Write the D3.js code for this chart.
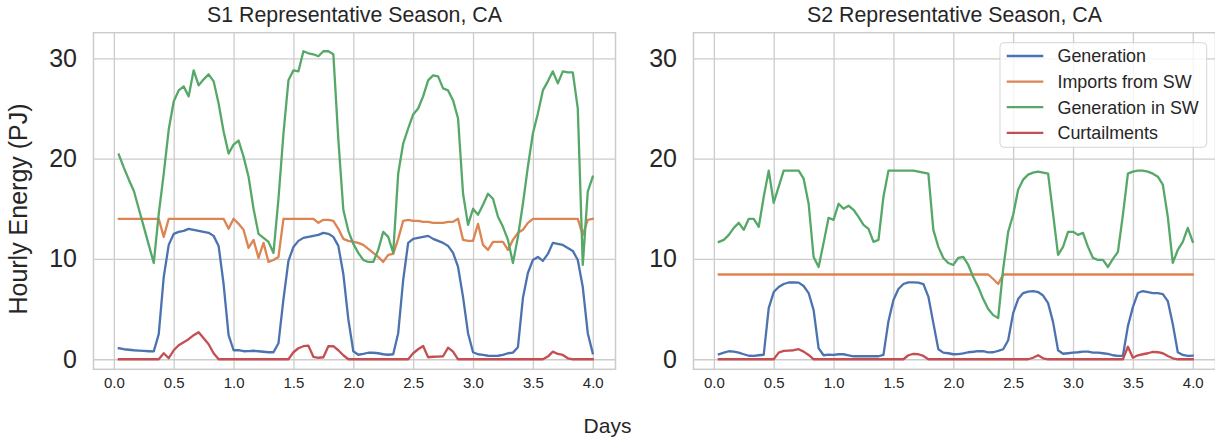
<!DOCTYPE html>
<html>
<head>
<meta charset="utf-8">
<script src="https://cdn.jsdelivr.net/npm/d3@7"></script>
<style>
  body { margin: 0; background: #fff; }
  svg { display: block; font-family: "Liberation Sans", Arial, sans-serif; }
</style>
</head>
<body>
<svg id="chart" width="1215" height="444"></svg>
<script>
// hourly values (PJ), hours 1..96 of each representative season
const hours = d3.range(1, 97)

const seriesNames = ["Generation", "Imports from SW", "Generation in SW", "Curtailments"]
const dayTicks = [0, 0.5, 1, 1.5, 2, 2.5, 3, 3.5, 4]
const energyTicks = [0, 10, 20, 30]

const s1Generation = [
  1.1, 1.0, 0.95, 0.9, 0.87, 0.83, 0.8, 0.78, 2.5, 8.2,
  11.4, 12.5, 12.7, 12.8, 13.0, 12.9, 12.8, 12.7, 12.6, 12.3,
  11.3, 7.5, 2.4, 0.9, 0.9, 0.8, 0.82, 0.85, 0.8, 0.75,
  0.7, 0.7, 1.6, 6.0, 9.8, 11.2, 11.8, 12.1, 12.2, 12.3,
  12.4, 12.6, 12.5, 12.2, 11.3, 8.5, 4.0, 0.8, 0.45, 0.53,
  0.65, 0.65, 0.6, 0.5, 0.45, 0.5, 2.6, 7.9, 11.6, 12.0,
  12.1, 12.2, 12.3, 12.0, 11.8, 11.6, 11.3, 10.6, 9.2, 6.2,
  2.6, 0.7, 0.5, 0.43, 0.35, 0.33, 0.35, 0.43, 0.6, 0.66,
  1.2, 6.1, 8.6, 9.9, 10.2, 9.8, 10.5, 11.6, 11.5, 11.4,
  11.1, 10.8, 9.9, 7.2, 2.6, 0.6
]
const s1Imports = [
  14.0, 14.0, 14.0, 14.0, 14.0, 14.0, 14.0, 14.0, 14.0, 12.2,
  14.0, 14.0, 14.0, 14.0, 14.0, 14.0, 14.0, 14.0, 14.0, 14.0,
  14.0, 14.0, 13.0, 14.0, 13.5, 12.9, 11.1, 11.9, 10.1, 11.6,
  9.7, 9.9, 10.2, 14.0, 14.0, 14.0, 14.0, 14.0, 14.0, 14.0,
  13.6, 13.9, 13.9, 13.8, 13.0, 12.0, 11.8, 11.7, 11.6, 11.4,
  11.0, 10.6, 10.2, 9.7, 10.4, 10.5, 12.0, 13.8, 13.9, 13.8,
  13.8, 13.7, 13.7, 13.6, 13.6, 13.6, 13.7, 13.7, 14.0, 11.9,
  11.8, 11.8, 13.5, 11.4, 10.9, 11.7, 11.7, 11.7, 10.9, 11.9,
  12.6, 12.9, 13.6, 14.0, 14.0, 14.0, 14.0, 14.0, 14.0, 14.0,
  14.0, 14.0, 14.0, 12.4, 13.9, 14.0
]
const s1GenerationSW = [
  20.4, 19.1, 17.9, 16.8, 15.0, 13.2, 11.4, 9.6, 14.5, 18.5,
  22.9, 25.7, 26.8, 27.2, 26.2, 28.8, 27.3, 27.9, 28.4, 27.7,
  25.5, 22.7, 20.5, 21.4, 21.8, 20.2, 18.2, 15.0, 12.5, 12.1,
  11.7, 10.6, 16.0, 22.5, 27.8, 28.8, 28.7, 30.7, 30.5, 30.4,
  30.2, 30.7, 30.7, 30.4, 21.9, 14.9, 12.8, 11.5, 10.6, 9.9,
  9.7, 9.7, 10.9, 12.7, 12.2, 10.6, 18.5, 21.5, 23.0, 24.4,
  25.0, 26.2, 27.8, 28.3, 28.2, 27.0, 26.8, 25.8, 24.0, 16.5,
  13.4, 15.0, 14.4, 15.4, 16.5, 16.0, 14.2, 13.2, 11.9, 9.6,
  12.2, 15.5, 19.2, 22.5, 24.5, 26.8, 27.7, 28.7, 27.5, 28.7,
  28.6, 28.6, 25.0, 9.4, 16.7, 18.2
]
const s1Curtailments = [
  0, 0, 0, 0, 0, 0, 0, 0, 0, 0.6,
  0.1, 0.9, 1.4, 1.7, 2.0, 2.4, 2.7, 2.1, 1.5, 0.6,
  0, 0, 0, 0, 0, 0, 0, 0, 0, 0,
  0, 0, 0, 0, 0, 0.7, 1.1, 1.3, 1.35, 0.25,
  0.15, 0.2, 1.3, 1.3, 0.9, 0.4, 0, 0, 0, 0,
  0, 0, 0, 0, 0, 0, 0, 0, 0, 0.6,
  1.0, 1.33, 0.2, 0.25, 0.27, 0.3, 1.16, 0.76, 0, 0,
  0, 0, 0, 0, 0, 0, 0, 0, 0, 0,
  0, 0, 0, 0, 0, 0, 0.27, 0.76, 0.53, 0.43,
  0.1, 0, 0, 0, 0, 0
]

const s2Generation = [
  0.5, 0.66, 0.8, 0.76, 0.66, 0.5, 0.35, 0.33, 0.4, 0.45,
  5.1, 6.7, 7.2, 7.5, 7.65, 7.67, 7.64, 7.3, 6.6, 4.9,
  1.1, 0.4, 0.47, 0.43, 0.5, 0.5, 0.4, 0.3, 0.3, 0.3,
  0.3, 0.3, 0.3, 0.43, 3.8, 5.9, 7.0, 7.5, 7.67, 7.67,
  7.64, 7.5, 6.25, 3.6, 1.0, 0.66, 0.6, 0.5, 0.52, 0.58,
  0.7, 0.75, 0.82, 0.8, 0.68, 0.7, 0.84, 1.0, 1.9, 4.6,
  6.0, 6.6, 6.75, 6.8, 6.7, 6.35, 5.6, 3.7, 0.9, 0.55,
  0.6, 0.66, 0.7, 0.76, 0.76, 0.66, 0.66, 0.6, 0.53, 0.4,
  0.33, 0.35, 3.3, 5.2, 6.6, 6.8, 6.7, 6.6, 6.6, 6.5,
  5.8, 3.5, 0.7, 0.43, 0.33, 0.36
]
const s2Imports = [
  8.45, 8.45, 8.45, 8.45, 8.45, 8.45, 8.45, 8.45, 8.45, 8.45,
  8.45, 8.45, 8.45, 8.45, 8.45, 8.45, 8.45, 8.45, 8.45, 8.45,
  8.45, 8.45, 8.45, 8.45, 8.45, 8.45, 8.45, 8.45, 8.45, 8.45,
  8.45, 8.45, 8.45, 8.45, 8.45, 8.45, 8.45, 8.45, 8.45, 8.45,
  8.45, 8.45, 8.45, 8.45, 8.45, 8.45, 8.45, 8.45, 8.45, 8.45,
  8.45, 8.45, 8.45, 8.45, 8.45, 8.0, 7.5, 8.45, 8.45, 8.45,
  8.45, 8.45, 8.45, 8.45, 8.45, 8.45, 8.45, 8.45, 8.45, 8.45,
  8.45, 8.45, 8.45, 8.45, 8.45, 8.45, 8.45, 8.45, 8.45, 8.45,
  8.45, 8.45, 8.45, 8.45, 8.45, 8.45, 8.45, 8.45, 8.45, 8.45,
  8.45, 8.45, 8.45, 8.45, 8.45, 8.45
]
const s2GenerationSW = [
  11.7, 11.9, 12.4, 13.1, 13.6, 12.9, 14.0, 14.0, 13.2, 16.2,
  18.8, 15.6, 17.2, 18.8, 18.8, 18.8, 18.8, 18.0, 15.5, 10.2,
  9.2, 11.6, 14.1, 13.9, 15.5, 15.0, 15.3, 14.9, 14.2, 13.4,
  13.0, 11.7, 11.9, 16.2, 18.8, 18.8, 18.8, 18.8, 18.8, 18.8,
  18.7, 18.6, 18.5, 12.9, 11.2, 10.1, 9.6, 9.4, 10.1, 10.2,
  9.4, 8.2, 7.2, 6.0, 5.0, 4.4, 4.1, 9.0, 12.7, 14.4,
  16.9, 17.9, 18.4, 18.6, 18.7, 18.6, 18.5, 14.5, 10.4, 11.2,
  12.7, 12.7, 12.4, 12.6, 11.2, 10.1, 9.9, 9.9, 9.2, 10.0,
  10.7, 14.4, 18.5, 18.7, 18.8, 18.8, 18.7, 18.5, 18.2, 17.4,
  14.2, 9.6, 10.9, 11.7, 13.1, 11.7
]
const s2Curtailments = [
  0, 0, 0, 0, 0, 0, 0, 0, 0, 0,
  0, 0, 0.66, 0.83, 0.86, 0.9, 1.0, 0.76, 0.43, 0,
  0, 0, 0, 0, 0, 0, 0, 0, 0, 0,
  0, 0, 0, 0, 0, 0, 0, 0, 0.4, 0.53,
  0.5, 0.33, 0, 0, 0, 0, 0, 0, 0, 0,
  0, 0, 0, 0, 0, 0, 0, 0, 0, 0,
  0, 0, 0, 0.15, 0.4, 0.1, 0, 0, 0, 0,
  0, 0, 0, 0, 0, 0, 0, 0, 0, 0,
  0, 0, 1.25, 0.15, 0.4, 0.5, 0.6, 0.73, 0.7, 0.6,
  0.33, 0.1, 0, 0, 0, 0
]

const colors = ["#4c72b0", "#dd8452", "#55a868", "#c44e52"]
const textColor = "#262626"
const gridColor = "#cccccc"

const panels = [
  { title: "S1 Representative Season, CA", left: 93.5,
    series: [s1Generation, s1Imports, s1GenerationSW, s1Curtailments], legend: false },
  { title: "S2 Representative Season, CA", left: 693.5,
    series: [s2Generation, s2Imports, s2GenerationSW, s2Curtailments], legend: true }
]

const svg = d3.select("#chart")
const panelWidth = 522
const plotTop = 32.7, plotBottom = 369.3

const y = d3.scaleLinear().domain([-1.0, 32.55]).range([plotBottom, plotTop])

panels.forEach(p => {
  const x = d3.scaleLinear().domain([-0.17, 4.19]).range([p.left, p.left + panelWidth])
  const g = svg.append("g")

  // grid + y ticks
  const yAxis = g.append("g")
    .attr("transform", `translate(${p.left},0)`)
    .call(d3.axisLeft(y).tickValues(energyTicks).tickFormat(d3.format("d"))
      .tickSize(-panelWidth).tickPadding(16.5))
  yAxis.select(".domain").remove()
  yAxis.selectAll("line").attr("stroke", gridColor).attr("stroke-width", 1.3)
  yAxis.selectAll("text").attr("fill", textColor).style("font-size", "25px")

  const xAxis = g.append("g")
    .attr("transform", `translate(0,${plotBottom})`)
    .call(d3.axisBottom(x).tickValues(dayTicks).tickFormat(d3.format(".1f"))
      .tickSize(-(plotBottom - plotTop)).tickPadding(8))
  xAxis.select(".domain").remove()
  xAxis.selectAll("line").attr("stroke", gridColor).attr("stroke-width", 1.3)
  xAxis.selectAll("text").attr("fill", textColor).style("font-size", "15px")

  const line = d3.line()
    .x((d, i) => x(hours[i] / 24))
    .y(d => y(d))

  p.series.forEach((values, k) => {
    g.append("path")
      .datum(values)
      .attr("fill", "none")
      .attr("stroke", colors[k])
      .attr("stroke-width", 2.3)
      .attr("stroke-linejoin", "round")
      .attr("stroke-linecap", "square")
      .attr("d", line)
  })

  // frame
  g.append("rect")
    .attr("x", p.left).attr("y", plotTop)
    .attr("width", panelWidth).attr("height", plotBottom - plotTop)
    .attr("fill", "none").attr("stroke", gridColor).attr("stroke-width", 1.5)

  g.append("text")
    .attr("x", p.left + panelWidth / 2).attr("y", 22)
    .attr("text-anchor", "middle")
    .attr("fill", textColor)
    .style("font-size", "21.3px")
    .text(p.title)

  if (p.legend) {
    const lg = g.append("g")
    lg.append("rect")
      .attr("x", 1000).attr("y", 42.7).attr("width", 206.7).attr("height", 104.6)
      .attr("rx", 4)
      .attr("fill", "#fff").attr("fill-opacity", 0.8)
      .attr("stroke", gridColor).attr("stroke-opacity", 0.8)
    seriesNames.forEach((name, k) => {
      const ly = 56 + k * 25.6
      lg.append("line")
        .attr("x1", 1006.7).attr("x2", 1043.3).attr("y1", ly).attr("y2", ly)
        .attr("stroke", colors[k]).attr("stroke-width", 2.3)
      lg.append("text")
        .attr("x", 1057.5).attr("y", ly)
        .attr("dy", "0.36em")
        .attr("fill", textColor)
        .style("font-size", "17.9px")
        .text(name)
    })
  }
})

svg.append("text")
  .attr("transform", "translate(27,209) rotate(-90)")
  .attr("text-anchor", "middle")
  .attr("fill", textColor)
  .style("font-size", "25px")
  .text("Hourly Energy (PJ)")

svg.append("text")
  .attr("x", 607.5).attr("y", 433)
  .attr("text-anchor", "middle")
  .attr("fill", textColor)
  .style("font-size", "21px")
  .text("Days")
</script>
</body>
</html>
